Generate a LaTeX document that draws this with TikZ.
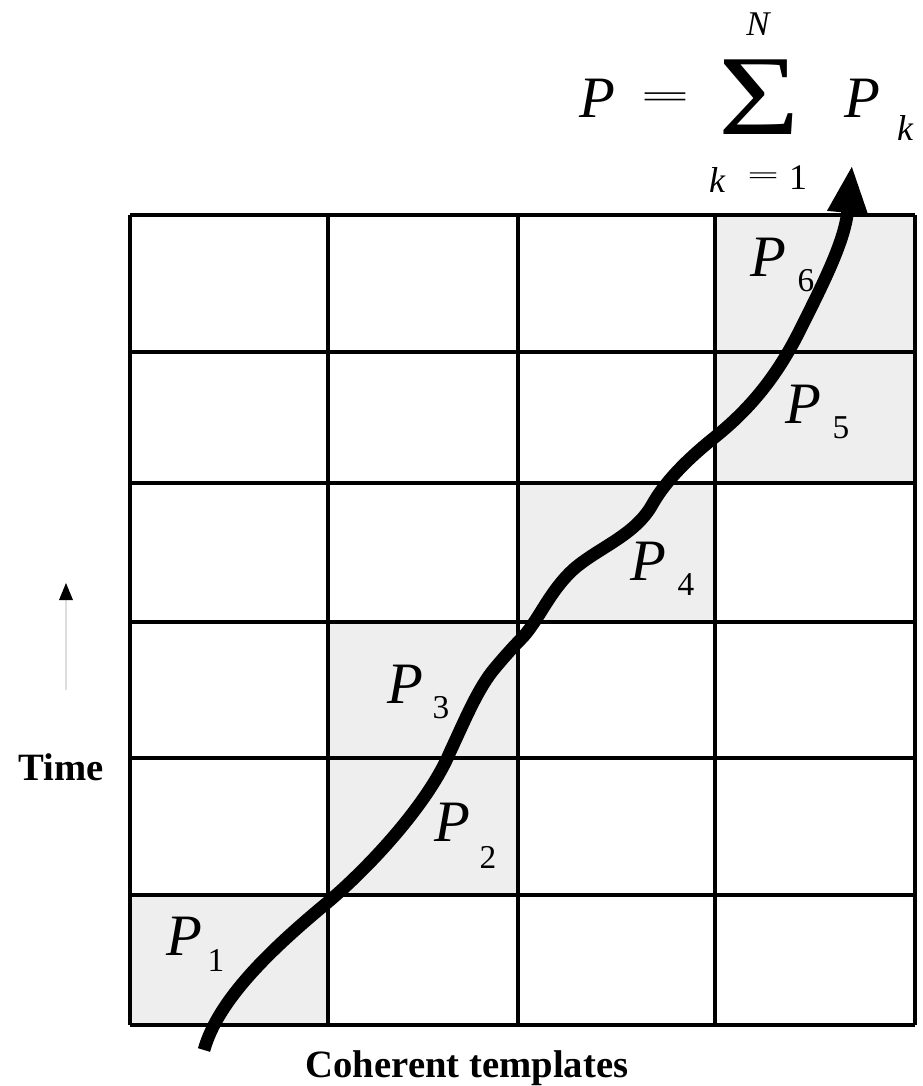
\documentclass[tikz,border=0pt]{standalone}
\usepackage{fontspec}
\setmainfont{Liberation Serif}
\usetikzlibrary{arrows.meta}
\definecolor{cellgray}{HTML}{EEEEEE}
\definecolor{timegray}{HTML}{DDDDDD}
\tikzset{
  gridline/.style={line width=2.3pt, black},
  shaded/.style={fill=cellgray},
  plabel/.style={inner sep=0pt, font=\fontsize{44}{44}\selectfont\itshape},
  sublabel/.style={inner sep=0pt, font=\fontsize{25}{25}\selectfont},
  smallmath/.style={inner sep=0pt, font=\fontsize{27}{27}\selectfont},
  axislabel/.style={inner sep=0pt, font=\fontsize{29}{29}\selectfont\bfseries},
  path line/.style={line width=9.5pt, line cap=butt, -{Triangle[length=36pt,width=28pt]}},
}
\begin{document}
\begin{tikzpicture}[x=0.75pt,y=-0.75pt]
\useasboundingbox (0,0) rectangle (922,1086);
% shaded cells
\fill[shaded] (130,895) rectangle (328,1025);
\fill[shaded] (328,758) rectangle (518,895);
\fill[shaded] (328,622) rectangle (518,758);
\fill[shaded] (518,483) rectangle (715,622);
\fill[shaded] (715,352) rectangle (915,483);
\fill[shaded] (715,215) rectangle (915,352);
% grid
\foreach \x in {130,328,518,715,915} \draw[gridline] (\x,215) -- (\x,1025);
\foreach \y in {215,352,483,622,758,895,1025} \draw[gridline] (130,\y) -- (915,\y);
% cell labels
\node[plabel] (p1) at (184,936) {P};
\node[sublabel] (s1) at (216,960) {1};
\node[plabel] (p2) at (452,822) {P};
\node[sublabel] (s2) at (488,857) {2};
\node[plabel] (p3) at (405,684) {P};
\node[sublabel] (s3) at (441,708) {3};
\node[plabel] (p4) at (648,561) {P};
\node[sublabel] (s4) at (686,585) {4};
\node[plabel] (p5) at (803,404) {P};
\node[sublabel] (s5) at (841,428) {5};
\node[plabel] (p6) at (768,257) {P};
\node[sublabel] (s6) at (806,281) {6};
% curve
\coordinate (cstart) at (204,1050);
\coordinate (cend) at (852,165);
\draw[path line] (cstart)
  .. controls (218,1000) and (270,950) .. (328,902)
  .. controls (375,862) and (430,800) .. (450,752)
  .. controls (465,720) and (478,688) .. (495,668)
  .. controls (505,656) and (515,645) .. (523,637)
  .. controls (540,618) and (550,590) .. (575,568)
  .. controls (600,547) and (635,535) .. (652,505)
  .. controls (662,487) and (680,465) .. (715,437)
  .. controls (755,405) and (780,370) .. (800,330)
  .. controls (825,280) and (845,240) .. (cend);
% formula
\node[plabel] (fp) at (597,98) {P};
\node[inner sep=0pt] (feq) at (665,100) {\resizebox{37pt}{11pt}{=}};
\node[inner sep=0pt] (fsum) at (759,97) {\resizebox{61pt}{56pt}{Σ}};
\node[smallmath, font=\fontsize{26}{26}\selectfont\itshape] (fn) at (758,24) {N};
\node[smallmath, font=\fontsize{27}{27}\selectfont\itshape] (fk0) at (717,180) {k};
\node[inner sep=0pt] (feq2) at (763,178) {\resizebox{24pt}{8pt}{=}};
\node[smallmath] (fone) at (798,178) {1};
\node[plabel] (fpk) at (862,98) {P};
\node[smallmath, font=\fontsize{27}{27}\selectfont\itshape] (fk) at (905,128) {k};
% time arrow
\coordinate (tbot) at (66,690);
\coordinate (ttop) at (66,583);
\draw[line width=1.5pt, timegray] (tbot) -- (66,600);
\fill[black] (ttop) -- (59,600) -- (73,600) -- cycle;
% axis labels
\node[axislabel] (time) at (61,767) {Time};
\node[axislabel] (coh) at (467,1068) {Coherent templates};
\end{tikzpicture}
\end{document}
